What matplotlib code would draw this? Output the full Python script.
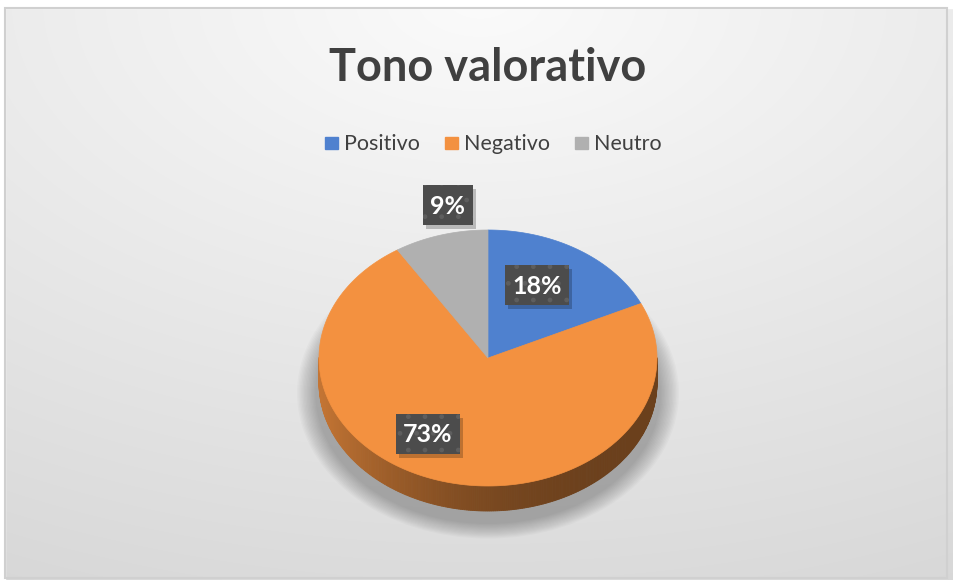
import numpy as np
import matplotlib.pyplot as plt
from matplotlib.patches import Polygon, Rectangle, Ellipse
from matplotlib.colors import to_rgb

# data
categories = ["Positivo", "Negativo", "Neutro"]
values = [18, 73, 9]
labels = ["18%", "73%", "9%"]
colors = ["#4f81cf", "#f39140", "#b0b0b0"]

# layout (pixels)
W, H = 954, 580
cx, cy = 488, 358          # centre of the top face
a, b = 169, 128            # radii of the top face
depth = 25                 # thickness of the pie
label_pos = [(537, 285), (428, 434), (448, 205)]

fig = plt.figure(figsize=(W / 100, H / 100), dpi=100)
ax = fig.add_axes([0, 0, 1, 1])
ax.set_xlim(0, W)
ax.set_ylim(H, 0)
ax.axis("off")

# chart area background
yy, xx = np.mgrid[0:H, 0:W]
r = np.sqrt(((xx - 480) / 1000) ** 2 + (yy / 580) ** 2)
shade = np.clip(251 - 32 * r, 0, 255) / 255
bg = np.dstack([shade, shade, shade])
ax.imshow(bg, extent=(0, W, H, 0), zorder=0, aspect="auto")
ax.add_patch(Rectangle((0, 0), W, 8, color="white", zorder=0.5))
ax.add_patch(Rectangle((0, 0), 5, H, color="white", zorder=0.5))
ax.add_patch(Rectangle((5, 8), 942, 570, fill=False, edgecolor="#d0d0d0", lw=1.5, zorder=0.6))


def pt(t, dy=0.0):
    t = np.radians(t)
    return cx + a * np.cos(t), cy - b * np.sin(t) + dy


# soft shadow
for i in range(14):
    grow = 22 - i * 1.4
    ax.add_patch(Ellipse((cx, cy + depth + 10), 2 * (a + grow), 2 * (b + grow * 0.8),
                         color="black", alpha=0.018, lw=0, zorder=1))

# slice angles: start at top, go clockwise
fracs = np.array(values) / sum(values)
ends = 90 - 360 * np.cumsum(fracs)
starts = np.concatenate([[90], ends[:-1]])

# side wall (only the front half is visible)
for t0, t1, col in zip(starts, ends, colors):
    base = np.array(to_rgb(col))
    ts = np.linspace(t1, t0, 400)
    for u0, u1 in zip(ts[:-1], ts[1:]):
        m = (u0 + u1) / 2 % 360
        if not (180 <= m <= 360):
            continue
        f = 0.44 + 0.37 * ((1 - np.cos(np.radians(m))) / 2) ** 2.5
        x0, y0 = pt(u0)
        x1, y1 = pt(u1)
        quad = [(x0, y0), (x1, y1), (x1, y1 + depth), (x0, y0 + depth)]
        ax.add_patch(Polygon(quad, closed=True, color=base * f, lw=0.6, zorder=2))

# top face
for t0, t1, col in zip(starts, ends, colors):
    ts = np.linspace(t0, t1, 200)
    xs, ys = pt(ts)
    poly = [(cx, cy)] + list(zip(xs, ys))
    ax.add_patch(Polygon(poly, closed=True, facecolor=col, edgecolor=col, lw=0.5, zorder=3))

# data labels
for (lx, ly), txt in zip(label_pos, labels):
    bw = 22 + 14 * len(txt)
    bh = 40
    ax.add_patch(Rectangle((lx - bw / 2 + 3, ly - bh / 2 + 4), bw, bh, color="black", alpha=0.22, lw=0, zorder=4))
    ax.add_patch(Rectangle((lx - bw / 2, ly - bh / 2), bw, bh, color="#4c4c4c", lw=0, zorder=5))
    ax.add_patch(Rectangle((lx - bw / 2, ly - bh / 2), bw, bh, facecolor="none", edgecolor="#5e5e5e",
                           hatch=".", lw=0, zorder=5.5))
    ax.text(lx, ly + 1, txt, color="white", fontsize=18, fontweight="bold", family="Lato",
            ha="center", va="center", zorder=6)

# title
ax.text(488, 68, "Tono valorativo", fontsize=32.5, fontweight="bold", family="Lato",
        color="#404040", ha="center", va="center", zorder=6)

# legend
lx = 325
for cat, col in zip(categories, colors):
    ax.add_patch(Rectangle((lx, 137), 13, 12, color=col, zorder=6))
    t = ax.text(lx + 19, 144, cat, fontsize=15.5, family="Lato", color="#404040",
                ha="left", va="center", zorder=6)
    fig.canvas.draw()
    bb = t.get_window_extent()
    lx = bb.x1 + 25

fig.savefig("out.png", dpi=100)
